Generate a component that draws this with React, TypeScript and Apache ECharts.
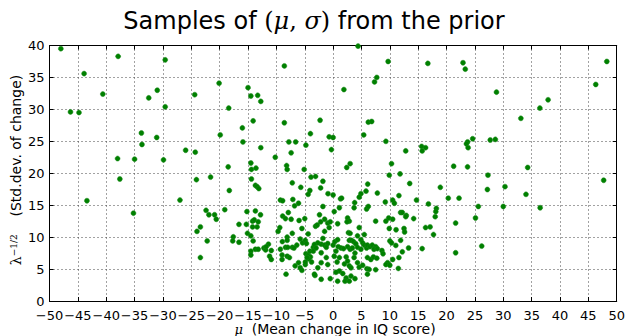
import React, { useEffect, useRef } from "react";
import * as echarts from "echarts";

const xTicks = { min: -50, max: 50, interval: 5 };
const yTicks = { min: 0, max: 40, interval: 5 };

// μ values (mean change in IQ score)
const muValues: number[] = [
  -48.0, -37.9, -29.6, -43.9, -20.1, -15.0, -40.6, -31.0, -32.5, -24.4, -29.6, -18.4, -46.3, -44.8, -33.8, -31.1, -33.7, -19.9, -16.0, -15.9, -26.0, -24.3, -38.0, -35.0, -29.9, -18.5, -21.6,
  4.4, -8.6, 9.7, 16.7, 7.7, 7.3, -14.5, -13.3, -12.75, 1.9, -14.1, -8.6, -2.3, 6.2, 6.8, -4.0, -0.7, 0.0, 5.4, 9.3, 15.6, 16.3, 15.7, 12.8, -7.8, -6.6, -4.8, -0.3, -12.75, -7.4, -10.2, -14.5, -14.4, -13.6, -8.2, -8.1, -5.1, 2.4, 3.0, 10.3, 9.9, 11.8, -3.9, -3.1,
  22.9, 23.3, 48.25, 46.3, 28.8, 37.9, 36.45, 33.1, 24.6, 23.7, 23.5, 23.8, 27.7, 28.6, 21.25, 23.7, 34.3, 27.3,
  -37.6, -43.4, -35.2,
  -24.1, -18.3, -27.0, -22.4, -21.9, -20.9, -20.6, -19.1, -15.2, -23.4, -24.0, -16.6, -15.3, -15.1, -17.6, -17.7, -16.6, -22.2, -23.4,
  -14.4, -7.2, -5.7, -13.7, -13.4, -13.1, -4.1, -4.4, -9.3, -8.9, -7.1, -6.1, -6.8, -13.7, -12.8, -7.9, -8.9, -8.4, -7.4, -6.0, -5.0, -14.2, -13.9, -13.2, -13.4, -14.2, -5.5, -9.4, -9.7, -7.2, -4.4, -3.1, -14.5, -14.1, -8.95, -8.1, -8.1, -5.8, -5.4, -4.9, -6.4, -7.2, -8.4, -8.0, -9.3, -6.9, -13.7, -13.2, -12.2, -11.9, -11.4, -11.8, -10.9, -14.5, -14.5, -11.2, -10.9, -9.0, -9.0, -8.1, -7.7, -6.1, -6.7, -5.8, -5.5, -4.9, -4.9, -4.8, -4.4, -4.0, -4.3, -3.8, -4.6, -4.1, -3.5, -3.5, -4.7, -8.3, -3.2,
  -1.8, -2.2, -0.9, 0.0, 1.3, 1.5, 6.1, 5.8, 4.9, 4.6, 7.8, 3.8, 3.7, 1.1, 0.2, -1.8, 5.9, 6.2, 7.5, -2.4, -2.2, -2.8, -1.5, -0.95, -0.7, -1.5, -0.5, 0.8, 2.55, 2.85, 2.45, 4.6, 2.7, 3.0, 5.5, 4.3,
  -1.8, -2.1, -1.5, -0.95, -1.2, -2.7, -3.3, -3.0,
  0.0, 0.3, 0.8, 0.9, 1.4, 1.85, 0.5,
  2.85, 3.25, 3.6, 4.0, 2.55, 3.0, 3.4, 3.85, 4.3,
  4.9, 5.2, 5.5, 5.9, 4.9,
  6.05, 6.5, 6.9, 7.5, 7.2, 7.8, 8.6, 8.8,
  -2.1, -1.2, -2.1, -0.95, -2.7, -3.3,
  0.2, 1.1, 0.7, 2.3, 2.0, 2.55, 2.85,
  3.7, 4.3, 3.15, 4.6, 5.2, 6.05, 6.65, 7.1, 5.95, 6.35,
  1.1, 1.7, 0.5, 2.3, 3.15, 3.85, -0.5, -2.1,
  2.1, 2.85, 0.8, 6.05, 7.7, 7.5,
  13.5, 18.9, 11.6, 10.5, 10.8, 9.2, 14.7, 16.8, 20.3, 22.2, 11.9, 12.2, 12.9, 12.8, 14.2, 18.2, 18.1, 18.0, 9.8, 9.3, 10.5, 9.9, 11.1, 12.5, 12.6, 16.3, 17.1, 17.7, 21.6, 10.0, 10.3, 11.05, 11.9, 13.3, 12.2, 15.7, 21.6, 10.5, 11.6, 9.6, 9.3, 10.0, 11.5,
  47.7, 27.2, 30.3, 34.0, 25.6, 30.0, 36.5, 25.1, 26.2,
];

// σ values (std. dev. of change)
const sigmaValues: number[] = [
  39.5, 38.3, 37.75, 35.6, 34.1, 33.4, 32.4, 33.0, 31.8, 32.3, 30.4, 30.2, 29.6, 29.5, 26.3, 25.6, 24.5, 26.0, 27.1, 24.9, 23.6, 23.3, 22.3, 22.2, 22.1, 21.0, 19.4,
  39.9, 36.8, 37.5, 37.2, 35.0, 34.3, 32.1, 32.2, 31.25, 33.1, 28.2, 27.9, 28.3, 28.0, 28.1, 26.2, 25.7, 25.6, 26.0, 25.0, 24.2, 24.0, 23.5, 23.5, 24.9, 24.9, 24.4, 23.7, 24.0, 23.2, 22.5, 21.6, 20.6, 20.8, 21.2, 20.6, 20.6, 20.9, 21.5, 21.5, 19.7, 19.9, 19.4, 19.5,
  37.3, 36.3, 37.5, 33.9, 32.7, 31.5, 30.2, 28.6, 25.4, 24.9, 24.6, 24.0, 25.2, 25.3, 21.1, 21.0, 20.9, 19.7,
  19.1, 15.7, 13.75,
  19.0, 17.3, 15.8, 14.2, 13.5, 13.5, 12.8, 14.3, 14.0, 11.6, 10.9, 12.0, 12.0, 10.6, 10.05, 9.4, 9.2, 9.4, 6.8,
  19.1, 18.5, 17.8, 18.1, 17.9, 17.6, 17.3, 16.7, 15.8, 15.7, 15.9, 15.3, 14.9, 14.1, 13.5, 13.85, 13.3, 12.9, 12.8, 12.6, 12.9, 12.5, 12.7, 12.4, 11.6, 11.6, 11.35, 11.5, 10.9, 10.6, 10.5, 11.7, 10.2, 9.4, 9.3, 10.0, 9.5, 9.7, 9.1, 9.5, 8.75, 8.4, 8.4, 8.4, 8.1, 8.3, 8.1, 8.1, 8.3, 8.0, 8.9, 8.5, 7.9, 7.8, 7.2, 7.0, 6.5, 7.2, 6.5, 7.0, 6.8, 6.0, 5.5, 5.2, 4.8, 5.7, 6.1, 7.4, 7.2, 6.9, 6.6, 6.1, 6.8, 7.8, 8.4, 7.8, 9.0, 4.2, 4.0,
  18.75, 17.7, 16.8, 16.6, 16.0, 16.1, 18.3, 17.2, 16.8, 16.25, 16.9, 15.4, 14.6, 14.6, 14.0, 14.8, 14.4, 14.8, 12.5, 13.5, 12.4, 11.9, 12.8, 12.2, 11.5, 10.9, 12.4, 12.1, 13.0, 12.5, 12.4, 11.5, 10.7, 10.6, 10.4, 10.2,
  9.8, 8.9, 8.75, 9.0, 8.4, 9.1, 8.85, 8.3,
  8.75, 9.3, 9.6, 8.5, 8.3, 8.2, 7.8,
  9.5, 9.5, 9.3, 8.96, 8.5, 8.1, 8.3, 7.5, 8.4,
  9.6, 9.1, 8.75, 8.3, 8.1,
  8.75, 8.5, 8.75, 8.5, 8.1, 8.2, 7.9, 7.4,
  7.55, 6.8, 6.0, 5.7, 5.2, 4.2,
  7.0, 6.8, 6.1, 6.9, 5.8, 6.25, 5.5,
  6.8, 6.0, 5.2, 5.3, 5.6, 6.8, 6.5, 6.9, 5.05, 4.95,
  4.7, 4.3, 4.5, 3.6, 3.9, 3.5, 3.5, 3.4,
  3.1, 3.1, 3.1, 4.2, 6.7, 4.9,
  18.4, 17.8, 16.5, 15.8, 15.3, 15.5, 15.8, 15.2, 16.1, 16.1, 13.85, 13.85, 13.4, 13.2, 12.9, 14.5, 14.0, 13.2, 13.0, 12.5, 12.8, 11.35, 11.15, 11.35, 10.8, 11.5, 11.6, 10.4, 12.2, 9.4, 9.1, 8.7, 9.5, 8.3, 7.7, 8.2, 7.55, 6.5, 6.8, 6.0, 5.7, 5.6, 5.1,
  18.9, 17.45, 17.9, 16.7, 14.8, 14.8, 14.6, 13.0, 8.6,
];

const titleText = "Samples of ";
const titleTail = " from the prior";
const xName = "(Mean change in IQ score)";
const yName = "(Std.dev. of change)";

const fmt = (v: number) => String(v).replace("-", "\u2212");

export default function App() {
  const ref = useRef<HTMLDivElement>(null);
  useEffect(() => {
    if (!ref.current) return;
    const chart = echarts.init(ref.current, null, { renderer: "svg" });
    const n = Math.min(muValues.length, sigmaValues.length);
    const data: number[][] = [];
    for (let i = 0; i < n; i++) data.push([muValues[i], sigmaValues[i]]);

    const tickLabel = { fontFamily: "DejaVu Sans", fontSize: 13, color: "#000" };
    const gridLine = { show: true, lineStyle: { color: "#444", type: [1, 3] as any, width: 1 } };
    const line = { show: true, onZero: false, lineStyle: { color: "#000", width: 1 } };
    const tick = { show: true, inside: true, length: 4, lineStyle: { color: "#000" } };

    chart.setOption({
      animation: false,
      backgroundColor: "#fff",
      grid: { left: 49.5, right: 8, top: 45.5, bottom: 35, containLabel: false },
      xAxis: [
        {
          type: "value",
          position: "bottom",
          ...xTicks,
          axisLine: line,
          axisTick: tick,
          splitLine: gridLine,
          axisLabel: { ...tickLabel, lineHeight: 14, margin: 7, formatter: (v: number) => fmt(v) },
        },
        {
          type: "value",
          position: "top",
          ...xTicks,
          axisLine: line,
          axisTick: tick,
          splitLine: { show: false },
          axisLabel: { show: false },
        },
      ],
      yAxis: [
        {
          type: "value",
          position: "left",
          ...yTicks,
          axisLine: line,
          axisTick: tick,
          splitLine: gridLine,
          axisLabel: { ...tickLabel, lineHeight: 12, margin: 5 },
        },
        {
          type: "value",
          position: "right",
          ...yTicks,
          axisLine: line,
          axisTick: tick,
          splitLine: { show: false },
          axisLabel: { show: false },
        },
      ],
      series: [
        {
          type: "scatter",
          xAxisIndex: 0,
          yAxisIndex: 0,
          data,
          symbol: "circle",
          symbolSize: 5,
          itemStyle: { color: "#008000", borderColor: "#1a8a1a", borderWidth: 0.5, opacity: 1 },
        },
      ],
      graphic: [
        {
          type: "text",
          x: 314,
          y: 21,
          style: {
            text: `{n|${titleText}}{m|(}{i|μ}{m|,}{i| σ}{m|)}{n|${titleTail}}`,
            align: "center",
            verticalAlign: "middle",
            fill: "#000",
            rich: {
              n: { fontFamily: "DejaVu Sans", fontSize: 24, fill: "#000" },
              m: { fontFamily: "DejaVu Serif", fontSize: 24, fill: "#000" },
              i: { fontFamily: "DejaVu Serif", fontStyle: "italic", fontSize: 24, fill: "#000" },
            },
          },
        },
        {
          type: "text",
          x: 335,
          y: 336,
          style: {
            text: `{i|μ}{n|  ${xName}}`,
            align: "center",
            verticalAlign: "bottom",
            fill: "#000",
            rich: {
              n: { fontFamily: "DejaVu Sans", fontSize: 14, lineHeight: 14, fill: "#000" },
              i: { fontFamily: "DejaVu Serif", fontStyle: "italic", fontSize: 13, lineHeight: 14, fill: "#000" },
            },
          },
        },
        {
          type: "text",
          x: 16,
          y: 170,
          rotation: Math.PI / 2,
          style: {
            text: `{l|λ}{s|−1/2}{n|    ${yName}}`,
            align: "center",
            verticalAlign: "middle",
            fill: "#000",
            rich: {
              l: { fontFamily: "DejaVu Serif", fontSize: 14, fill: "#000", verticalAlign: "bottom" },
              s: { fontFamily: "DejaVu Serif", fontSize: 9, fill: "#000", verticalAlign: "top" },
              n: { fontFamily: "DejaVu Sans", fontSize: 14, fill: "#000", verticalAlign: "bottom" },
            },
          },
        },
      ],
    });
    return () => chart.dispose();
  }, []);
  return (
    <div
      ref={ref}
      style={{ position: "fixed", left: 0, top: 0, width: 628, height: 336, background: "#fff" }}
    />
  );
}
